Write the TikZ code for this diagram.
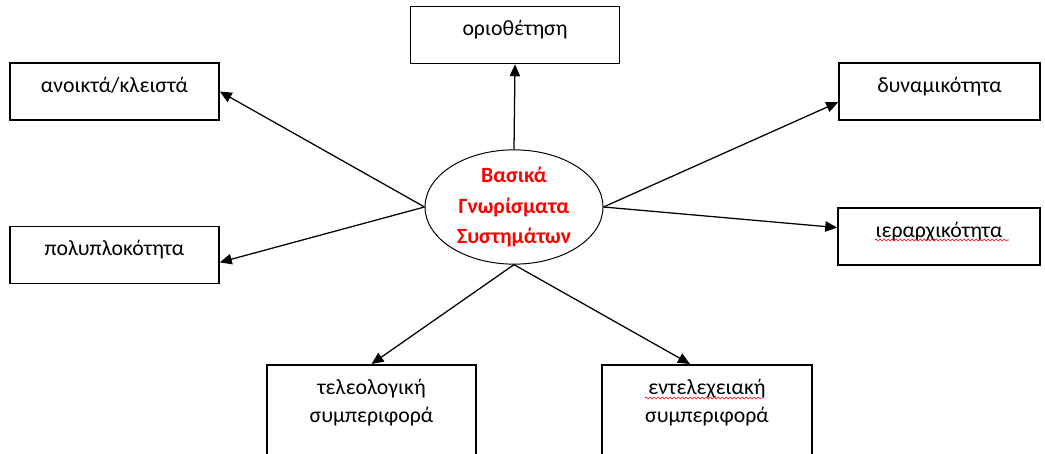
\documentclass[tikz,border=0pt]{standalone}
\usepackage{fontspec}
\setmainfont{Carlito}
\usetikzlibrary{shapes.geometric,arrows.meta,calc,positioning,decorations.pathmorphing}

\tikzset{
  box/.style={draw, line width=1.1pt, minimum width=5.225cm, minimum height=1.425cm,
    inner sep=0pt, text height=0.39cm, text depth=0.34cm, font=\fontsize{15.5}{20}\selectfont},
  boxdois/.style={box, anchor=north, minimum height=3cm},
  texto/.style={inner sep=0pt, align=center, font=\fontsize{15.5}{19.9}\selectfont},
  seta/.style={-{Triangle[length=0.3cm,width=0.26cm]}, line width=0.9pt},
  erro/.style={red, line width=0.4pt, decorate,
    decoration={snake, amplitude=0.025cm, segment length=0.1cm}}
}

\begin{document}
\begin{tikzpicture}

  \useasboundingbox (0,0) rectangle (26.125,11.35);
  \clip (0,0) rectangle (26.125,11.35);

  % centro
  \node[ellipse, draw, line width=0.7pt, minimum width=4.45cm, minimum height=2.8cm,
    inner sep=0pt, align=center, text=red, font=\bfseries\fontsize{15.5}{22}\selectfont]
    (centro) at (12.85,6.175) {Βασικά\\Γνωρίσματα\\Συστημάτων};

  % caixas
  \node[box] (orio) at (12.875,10.475) {οριοθέτηση};
  \node[box] (anoikta) at (2.8625,9.0625) {ανοικτά/κλειστά};
  \node[box] (poly) at (2.8625,4.975) {πολυπλοκότητα};
  \node[box, minimum width=5.025cm] (dyn) at (23.4875,9.0625) {δυναμικότητα};
  \node[box, minimum width=5.05cm] (ier) at (23.475,5.4375) {ιεραρχικότητα};
  \node[boxdois] (teleo) at (9.2875,2.25) {};
  \node[boxdois, minimum width=5.25cm] (entel) at (17.675,2.25) {};
  \node[texto, below=0.38cm of teleo.north] (teleotxt) {τελεολογική\\συμπεριφορά};
  \node[texto, below=0.38cm of entel.north] (enteltxt) {εντελεχειακή\\συμπεριφορά};

  % setas
  \draw[seta] (centro.north) -- (orio.south);
  \draw[seta] (centro.west) -- (anoikta.east);
  \draw[seta] (centro.west) -- (poly.-4);
  \draw[seta] (centro.east) -- (dyn.186);
  \draw[seta] (centro.east) -- (ier.175);
  \draw[seta] (centro.south) -- (teleo.north);
  \draw[seta] (centro.south) -- ($(entel.north)+(-0.425,0)$);

  % sublinhado ortografico
  \draw[erro] (21.875,5.35) -- (25.225,5.35);
  \draw[erro] (16.125,1.4) -- (19.075,1.4);

\end{tikzpicture}
\end{document}
